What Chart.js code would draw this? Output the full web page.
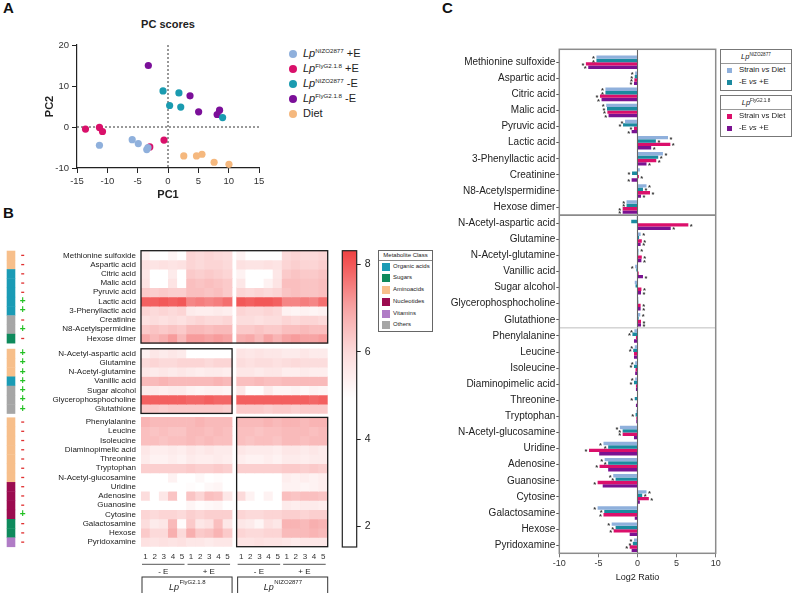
<!DOCTYPE html>
<html><head><meta charset="utf-8">
<script src="https://cdn.jsdelivr.net/npm/chart.js@4.4.1/dist/chart.umd.min.js"></script>
<style>
body{margin:0;background:#fff;width:793px;height:593px;position:relative;overflow:hidden;font-family:"Liberation Sans",Arial,sans-serif;color:#222}
.abs{position:absolute}
canvas{position:absolute}
.pl{position:absolute;font-weight:bold;font-size:15px;color:#111}
.legA{position:absolute;left:288px;top:46px;font-size:11px}
.legA .li{height:15px;line-height:15px;white-space:nowrap;position:relative;padding-left:15px}
.legA .dot{position:absolute;left:1px;top:3.5px;width:8px;height:8px;border-radius:50%}
.legA sup{font-size:0.56em}
sup{font-size:0.62em;vertical-align:0;position:relative;top:-0.6em}
.cls{position:absolute;left:378px;top:249.5px;width:53px;height:80px;border:1px solid #666;font-size:6px;background:#fff}
.cls .hd{text-align:center;height:9px;line-height:9px;border-bottom:1px solid #888}
.cls .it{height:11.8px;line-height:11.8px;position:relative;padding-left:14px}
.cls .sw{position:absolute;left:3px;top:2px;width:8px;height:8px}
.legC{position:absolute;left:720px;width:70px;border:1px solid #777;font-size:7.8px;background:#fff}
.legC .hd{text-align:center;height:13px;line-height:14px;border-bottom:1px solid #999;font-size:7.5px}
.legC .it{height:12px;line-height:12px;position:relative;padding-left:18px}
.legC .sq{position:absolute;left:6px;top:4px;width:4.5px;height:4.5px}
</style></head><body>
<div class="pl" style="left:3px;top:-1px">A</div>
<div class="pl" style="left:3px;top:204px">B</div>
<div class="pl" style="left:442px;top:-1px">C</div>
<div class="abs" style="left:118px;top:18px;width:100px;text-align:center;font-weight:bold;font-size:11px">PC scores</div>

<canvas id="cA" width="252" height="172" style="left:20px;top:36px"></canvas>
<div class="legA" id="legA"></div>

<canvas id="cH" width="340" height="348" style="left:0px;top:245px"></canvas>
<canvas id="cBar" width="60" height="310" style="left:330px;top:245px"></canvas>
<div class="cls" id="cls"><div class="hd">Metabolite Class</div></div>

<canvas id="cC" width="285" height="553" style="left:440px;top:40px"></canvas>
<div class="legC" style="top:49px;height:40px">
  <div class="hd"><i>Lp</i><sup>NIZO2877</sup></div>
  <div class="it"><span class="sq" style="background:#8fb0dc"></span>Strain <i>vs</i> Diet</div>
  <div class="it"><span class="sq" style="background:#1b8a9f"></span>-E <i>vs</i> +E</div>
</div>
<div class="legC" style="top:95px;height:40px">
  <div class="hd"><i>Lp</i><sup>FlyG2.1.8</sup></div>
  <div class="it"><span class="sq" style="background:#db0f6b"></span>Strain vs Diet</div>
  <div class="it"><span class="sq" style="background:#7a1291"></span>-E <i>vs</i> +E</div>
</div>

<script>
// ---------------- DATA ----------------
// Panel A: PC scores
const nizoPlusE_PC1 = [-11.3, -5.9, -4.9, -3.5, -3.3];
const nizoPlusE_PC2 = [-4.45, -3.1, -4.05, -5.5, -5.0];
const flyPlusE_PC1  = [-13.6, -11.3, -10.8, -3.0, -0.66];
const flyPlusE_PC2  = [-0.5, -0.1, -1.1, -4.85, -3.2];
const nizoMinusE_PC1 = [-0.82, 1.8, 0.27, 2.1, 9.0];
const nizoMinusE_PC2 = [8.8, 8.3, 5.25, 4.85, 2.3];
const flyMinusE_PC1 = [-3.24, 3.63, 5.05, 8.1, 8.5];
const flyMinusE_PC2 = [15.0, 7.6, 3.7, 3.05, 4.1];
const diet_PC1 = [2.6, 4.7, 5.6, 7.6, 10.05];
const diet_PC2 = [-7.05, -7.05, -6.65, -8.6, -9.1];

// Metabolites (rows of B, categories of C)
const metabolites = ["Methionine sulfoxide","Aspartic acid","Citric acid","Malic acid","Pyruvic acid","Lactic acid","3-Phenyllactic acid","Creatinine","N8-Acetylspermidine","Hexose dimer",
 "N-Acetyl-aspartic acid","Glutamine","N-Acetyl-glutamine","Vanillic acid","Sugar alcohol","Glycerophosphocholine","Glutathione",
 "Phenylalanine","Leucine","Isoleucine","Diaminopimelic acid","Threonine","Tryptophan","N-Acetyl-glucosamine","Uridine","Adenosine","Guanosine","Cytosine","Galactosamine","Hexose","Pyridoxamine"];
const groupSizes = [10, 7, 14];
const metaboliteClass = ["Aminoacids","Aminoacids","Organic acids","Organic acids","Organic acids","Organic acids","Organic acids","Others","Others","Sugars",
 "Aminoacids","Aminoacids","Aminoacids","Organic acids","Others","Others","Others",
 "Aminoacids","Aminoacids","Aminoacids","Aminoacids","Aminoacids","Aminoacids","Aminoacids","Nucleotides","Nucleotides","Nucleotides","Nucleotides","Sugars","Sugars","Vitamins"];
const metaboliteSign = ["-","-","-","-","-","+","+","-","+","-",
 "+","+","+","+","+","+","+",
 "-","-","-","-","-","-","-","-","-","-","+","-","-","-"];
const classNames = ["Organic acids","Sugars","Aminoacids","Nucleotides","Vitamins","Others"];

// Panel B heatmap columns: LpFlyG2.1.8 -E 1-5, +E 1-5, LpNIZO2877 -E 1-5, +E 1-5
const heatColumnLabels = ["1","2","3","4","5","1","2","3","4","5","1","2","3","4","5","1","2","3","4","5"];
const heatValues = [
 [5.4,4.6,4.6,5.2,4.6, 6.1,6.0,6.1,6.0,5.9, 5.3,4.6,4.6,4.6,4.7, 6.0,6.1,6.0,6.0,6.1],
 [5.8,5.7,5.8,5.7,5.8, 6.1,6.0,6.1,6.1,6.0, 5.8,5.7,5.7,5.8,5.7, 6.1,6.2,6.1,6.1,6.2],
 [5.6,4.5,4.5,5.5,4.6, 6.3,6.2,6.3,6.2,6.1, 5.3,4.6,4.6,4.8,5.6, 6.3,6.4,6.3,6.3,6.4],
 [5.7,4.6,4.6,5.7,4.6, 6.5,6.4,6.5,6.4,6.3, 5.6,4.7,4.6,5.3,5.7, 6.5,6.5,6.4,6.4,6.5],
 [6.3,6.2,6.3,6.2,6.2, 6.5,6.5,6.4,6.5,6.3, 6.1,6.0,6.1,6.0,6.1, 6.4,6.5,6.4,6.4,6.5],
 [7.9,7.9,8.0,7.9,8.0, 7.4,7.5,7.4,7.5,7.7, 8.0,7.9,8.0,8.0,7.9, 7.4,7.4,7.5,7.4,7.7],
 [6.1,6.0,6.1,6.0,6.1, 5.5,5.4,5.4,5.5,5.4, 6.1,6.0,6.0,6.1,6.0, 5.3,5.2,5.3,5.2,5.3],
 [5.8,5.9,5.8,5.9,5.8, 6.0,6.1,6.0,6.0,6.1, 5.9,5.9,5.8,5.9,5.9, 6.1,6.0,6.1,6.1,6.0],
 [6.3,6.4,6.3,6.4,6.3, 6.6,6.6,6.5,6.6,6.6, 6.3,6.3,6.4,6.3,6.3, 6.5,6.5,6.6,6.5,6.5],
 [6.9,6.6,6.8,7.1,6.6, 7.1,7.1,7.0,7.1,7.0, 6.8,6.9,6.6,7.0,6.7, 7.0,7.1,7.0,7.0,7.1],
 [5.3,5.6,5.5,5.6,5.5, 4.7,4.6,4.7,4.6,4.7, 5.7,5.6,5.7,5.6,5.6, 5.5,5.5,5.6,5.5,5.5],
 [6.0,6.1,6.0,6.0,6.1, 6.1,6.1,6.0,6.1,6.1, 5.9,5.8,5.9,5.9,5.8, 5.9,6.0,5.9,5.9,5.9],
 [5.6,5.5,5.6,5.5,5.6, 5.5,5.4,5.5,5.5,5.4, 5.6,5.6,5.5,5.6,5.6, 5.4,5.4,5.5,5.4,5.4],
 [6.6,6.6,6.7,6.6,6.6, 6.6,6.6,6.6,6.7,6.6, 6.5,6.5,6.6,6.5,6.5, 6.6,6.6,6.6,6.6,6.6],
 [5.5,5.5,5.4,5.5,5.5, 5.3,5.2,5.3,5.3,5.2, 5.6,5.0,5.0,5.5,5.2, 5.2,5.3,5.1,5.3,5.2],
 [7.9,7.9,7.9,7.9,7.9, 7.8,7.8,7.9,7.8,7.8, 7.9,7.9,7.9,7.9,7.9, 7.9,7.9,7.9,7.8,7.9],
 [6.3,6.3,6.2,6.3,6.3, 6.3,6.3,6.3,6.3,6.2, 6.3,6.3,6.3,6.2,6.3, 6.3,6.2,6.3,6.3,6.3],
 [6.7,6.6,6.6,6.6,6.6, 6.6,6.7,6.6,6.6,6.6, 6.6,6.6,6.6,6.7,6.6, 6.7,6.7,6.6,6.7,6.7],
 [6.5,6.4,6.5,6.4,6.4, 6.6,6.6,6.5,6.6,6.5, 6.5,6.5,6.4,6.5,6.5, 6.6,6.6,6.6,6.5,6.6],
 [6.5,6.5,6.4,6.5,6.5, 6.6,6.5,6.6,6.5,6.5, 6.5,6.4,6.5,6.5,6.4, 6.6,6.6,6.5,6.6,6.6],
 [5.6,5.4,5.4,5.5,5.4, 5.6,5.5,5.6,5.5,5.5, 5.6,5.5,5.5,5.5,5.4, 5.6,5.6,5.5,5.6,5.5],
 [5.5,5.3,5.3,5.4,5.3, 5.5,5.4,5.4,5.5,5.4, 5.4,5.3,5.3,5.4,5.3, 5.5,5.5,5.4,5.5,5.5],
 [6.2,6.2,6.2,6.2,6.2, 6.3,6.2,6.2,6.3,6.2, 6.2,6.2,6.2,6.2,6.2, 6.3,6.3,6.2,6.3,6.2],
 [4.9,4.6,4.6,5.3,4.6, 4.9,5.1,4.8,5.0,4.9, 4.5,4.5,4.5,4.5,4.5, 5.4,5.3,5.4,5.3,5.4],
 [4.6,4.5,4.5,4.6,4.5, 5.0,4.8,5.1,5.2,4.8, 4.5,4.5,4.5,4.5,4.5, 5.3,5.3,5.2,5.3,5.4],
 [5.9,4.6,5.6,6.4,4.6, 6.4,6.1,6.5,6.4,5.6, 6.0,5.3,4.6,5.3,4.6, 6.5,6.4,6.5,6.5,6.4],
 [4.6,4.5,4.5,4.6,4.5, 5.2,5.0,5.1,5.2,4.9, 4.5,4.6,4.5,4.5,4.5, 5.5,5.4,5.5,5.5,5.4],
 [6.1,6.0,6.1,6.1,6.0, 6.2,6.1,6.2,6.2,6.2, 6.1,6.0,6.0,6.1,6.1, 6.2,6.2,6.1,6.2,6.2],
 [5.9,5.5,5.6,6.6,5.0, 6.3,5.6,5.8,6.5,5.6, 5.6,5.5,5.2,5.8,5.6, 6.7,6.7,6.6,6.8,6.7],
 [6.3,6.0,6.0,6.8,6.0, 6.8,6.3,6.4,6.7,6.3, 6.1,6.0,6.0,6.1,6.1, 6.6,6.6,6.6,6.7,6.6],
 [5.8,5.7,5.8,5.7,5.8, 5.6,5.6,5.5,5.6,5.6, 5.7,5.7,5.8,5.7,5.7, 5.6,5.5,5.6,5.6,5.6]
];
const colorMin = 1.53, colorMax = 8.31;
const colorTicks = [2, 4, 6, 8];

// Panel C: Log2 ratios
const nizoStrainDiet = [-5.25,-0.3,-4.1,-4.0,-1.6,3.9,3.25,0.3,1.15,-1.4, -0.1,0.4,0.15,-0.3,-0.35,0.1,0.35, -0.4,-0.35,-0.3,-0.3,0,-0.15,-2.25,-4.35,-4.2,-3.1,1.15,-5.1,-3.3,-0.45];
const nizoEffect     = [-5.25,-0.35,-4.1,-3.9,-1.85,2.35,2.65,-0.7,0.7,-1.4, -0.8,0.2,0.1,-0.15,-0.25,0.1,0.15, -0.65,-0.55,-0.45,-0.45,-0.35,-0.25,-1.9,-3.75,-3.75,-2.8,0.6,-4.25,-2.8,-0.6];
const flyStrainDiet  = [-6.6,-0.4,-4.8,-3.85,-0.45,4.2,2.4,0.17,1.6,-1.9, 6.5,0.55,0.55,0.15,0.5,0.4,0.45, -0.2,-0.45,-0.25,-0.2,-0.05,-0.15,-1.9,-6.2,-4.85,-5.1,1.45,-4.35,-3.05,-1.0];
const flyEffect      = [-6.3,-0.45,-4.6,-3.7,-0.75,1.75,1.15,-0.75,0.45,-1.9, 4.25,0.4,0.5,0.7,0.45,0.4,0.45, -0.45,-0.45,-0.3,-0.2,-0.2,-0.15,-0.45,-4.9,-3.75,-4.45,0.3,-0.35,-1.0,-0.75];
const nizoStrainDietSig = [1,1,1,1,1,1,1,0,1,1, 0,1,1,1,0,0,1, 1,1,1,1,0,0,1,1,1,1,1,1,1,1];
const nizoEffectSig     = [1,1,1,1,1,1,1,1,1,1, 0,0,0,0,0,0,0, 1,1,1,1,1,1,1,1,1,1,1,1,1,1];
const flyStrainDietSig  = [1,1,1,1,1,1,1,1,1,1, 1,1,1,0,1,1,1, 0,0,0,0,0,0,1,1,1,1,1,1,1,1];
const flyEffectSig      = [1,1,1,1,1,1,1,1,1,1, 1,1,1,1,1,1,1, 0,0,0,0,0,0,0,0,0,0,0,0,0,0];
const log2Ticks = [-10, -5, 0, 5, 10];

// ---------------- STYLE ----------------
const FONT = '"Liberation Sans", Arial, sans-serif';
Chart.defaults.font.family = FONT;
Chart.defaults.color = '#222';
Chart.defaults.animation = false;
Chart.defaults.events = [];
Chart.defaults.plugins.legend.display = false;
Chart.defaults.plugins.tooltip.enabled = false;

const classColors = {"Organic acids":"#1a9bb5","Sugars":"#0e8a5c","Aminoacids":"#f7bf8b","Nucleotides":"#9b0b4f","Vitamins":"#b07cc6","Others":"#a6a6a6"};

// Legends (HTML)
const groupsA = [
 {name:'NIZO2877', cond:'+E', color:'#8fb0dc', pc1:nizoPlusE_PC1, pc2:nizoPlusE_PC2},
 {name:'FlyG2.1.8', cond:'+E', color:'#d9106a', pc1:flyPlusE_PC1, pc2:flyPlusE_PC2},
 {name:'NIZO2877', cond:'-E', color:'#1a9bb0', pc1:nizoMinusE_PC1, pc2:nizoMinusE_PC2},
 {name:'FlyG2.1.8', cond:'-E', color:'#7b0f99', pc1:flyMinusE_PC1, pc2:flyMinusE_PC2},
 {name:null, cond:'Diet', color:'#f5b87e', pc1:diet_PC1, pc2:diet_PC2}
];
document.getElementById('legA').innerHTML = groupsA.map(g =>
 `<div class="li"><span class="dot" style="background:${g.color}"></span>${g.name?`<i>Lp</i><sup>${g.name}</sup> ${g.cond}`:g.cond}</div>`).join('');
document.getElementById('cls').innerHTML += classNames.map(c =>
 `<div class="it"><span class="sw" style="background:${classColors[c]}"></span>${c}</div>`).join('');

// ---------------- PANEL A ----------------
const zeroLines = {
 id:'zeroLines',
 beforeDatasetsDraw(chart){
  const {ctx, chartArea:a, scales:{x,y}} = chart;
  ctx.save(); ctx.strokeStyle='#333'; ctx.lineWidth=1; ctx.setLineDash([2,2]);
  const px = x.getPixelForValue(0), py = y.getPixelForValue(0);
  ctx.beginPath(); ctx.moveTo(px,a.top); ctx.lineTo(px,a.bottom); ctx.moveTo(a.left,py); ctx.lineTo(a.right,py); ctx.stroke();
  ctx.restore();
 }
};
new Chart(document.getElementById('cA'), {
 type:'scatter',
 data:{datasets: groupsA.map(g => ({data: g.pc1.map((v,i)=>({x:v, y:g.pc2[i]})), backgroundColor:g.color, borderWidth:0, pointRadius:3.6}))},
 options:{responsive:false, clip:false,
  layout:{padding:{top:9,right:13,left:0,bottom:0}},
  scales:{
   x:{type:'linear', min:-15, max:15, ticks:{stepSize:5, font:{size:9.5}, color:'#333', padding:3},
      grid:{drawOnChartArea:false, tickLength:5, color:'#222'}, border:{color:'#222', width:1.2},
      title:{display:true, text:'PC1', font:{size:11, weight:'bold'}, color:'#222', padding:{top:0,bottom:6}},
      afterFit(s){ s.height=40; s.paddingLeft=0; s.paddingRight=0; }},
   y:{type:'linear', min:-10, max:20, ticks:{stepSize:10, font:{size:9.5}, color:'#333', padding:3},
      grid:{drawOnChartArea:false, tickLength:5, color:'#222'}, border:{color:'#222', width:1.2},
      title:{display:true, text:'PC2', font:{size:11, weight:'bold'}, color:'#222', padding:{top:23.5,bottom:0}},
      afterFit(s){ s.width=57; s.paddingTop=0; s.paddingBottom=0; }}
  }},
 plugins:[zeroLines]
});

// ---------------- PANEL B ----------------
const colorStops = [[1.5,[255,255,255]],[4.9,[255,255,255]],[6.0,[252,218,218]],[7.0,[247,164,164]],[8.0,[242,88,88]],[8.4,[238,60,60]]];
function colorFor(v){
 if (v <= colorStops[0][0]) return 'rgb(255,255,255)';
 for (let k=1;k<colorStops.length;k++){
  const [v1,c1] = colorStops[k], [v0,c0] = colorStops[k-1];
  if (v <= v1){ const t=(v-v0)/(v1-v0); return `rgb(${c0.map((c,j)=>Math.round(c+(c1[j]-c)*t)).join(',')})`; }
 }
 const c = colorStops[colorStops.length-1][1]; return `rgb(${c.join(',')})`;
}
// row layout (in row units) with small gaps between groups
const groupGaps = [0, 0.62, 0.43];
const rowTop = []; const groupTop = []; const groupBottom = [];
{ let pos = 0, r = 0;
  groupSizes.forEach((n,g) => { pos += groupGaps[g]; groupTop.push(pos); for(let k=0;k<n;k++){ rowTop[r++] = pos; pos += 1; } groupBottom.push(pos); });
}
const rowsTotal = groupBottom[groupBottom.length-1];
const colCenter = heatColumnLabels.map((_,i) => i + 0.5 + (i >= 10 ? 0.5 : 0));
const colsTotal = 20.5;
const condGroups = [{t:'- E', c0:0, c1:5},{t:'+ E', c0:5, c1:10},{t:'- E', c0:10.5, c1:15.5},{t:'+ E', c0:15.5, c1:20.5}];
const strainGroups = [{t:'FlyG2.1.8', c0:0, c1:10},{t:'NIZO2877', c0:10.5, c1:20.5}];
const heatBoxes = [{g:0, c0:0, c1:20.5},{g:1, c0:0, c1:10},{g:2, c0:10.5, c1:20.5}];

const heatDecor = {
 id:'heatDecor',
 afterDraw(chart){
  const {ctx, scales:{x,y}} = chart;
  ctx.save();
  ctx.strokeStyle='#1a1a1a'; ctx.lineWidth=1.3;
  heatBoxes.forEach(b => {
   const x0=x.getPixelForValue(b.c0), x1=x.getPixelForValue(b.c1);
   const y0=y.getPixelForValue(groupTop[b.g]), y1=y.getPixelForValue(groupBottom[b.g]);
   ctx.strokeRect(x0, y0, x1-x0, y1-y0);
  });
  metaboliteClass.forEach((c,i) => {
   const t=y.getPixelForValue(rowTop[i]), b=y.getPixelForValue(rowTop[i]+1);
   ctx.fillStyle = classColors[c]; ctx.fillRect(6.7, t, 8.6, b-t+0.4);
  });
  ctx.textAlign='center'; ctx.textBaseline='middle';
  metaboliteSign.forEach((s,i) => {
   const cy = y.getPixelForValue(rowTop[i]+0.5);
   if (s === '+'){ ctx.fillStyle='#22c022'; ctx.font='bold 10px '+FONT; ctx.fillText('+', 22.7, cy); }
   else { ctx.fillStyle='#e03030'; ctx.fillRect(21.2, cy-0.6, 3, 1.3); }
  });
  ctx.strokeStyle='#444'; ctx.lineWidth=0.9; ctx.fillStyle='#222'; ctx.font='8px '+FONT;
  condGroups.forEach(g => {
   const x0=x.getPixelForValue(g.c0)+1, x1=x.getPixelForValue(g.c1)-2;
   ctx.beginPath(); ctx.moveTo(x0, 564.3-245); ctx.lineTo(x1, 564.3-245); ctx.stroke();
   ctx.fillText(g.t, (x0+x1)/2, 571.8-245);
  });
  ctx.strokeStyle='#333'; ctx.lineWidth=1;
  strainGroups.forEach(g => {
   const x0=x.getPixelForValue(g.c0)+1, x1=x.getPixelForValue(g.c1);
   ctx.strokeRect(x0, 577-245, x1-x0, 30);
   ctx.font='italic 9px '+FONT; const w1=ctx.measureText('Lp').width;
   ctx.font='6px '+FONT; const w2=ctx.measureText(g.t).width;
   const sx=(x0+x1)/2-(w1+w2)/2;
   ctx.textAlign='left';
   ctx.font='italic 9px '+FONT; ctx.fillText('Lp', sx, 587.5-245);
   ctx.font='6px '+FONT; ctx.fillText(g.t, sx+w1+0.5, 582.5-245);
   ctx.textAlign='center';
  });
  ctx.restore();
 }
};
new Chart(document.getElementById('cH'), {
 type:'bar',
 data:{datasets: heatValues.map((row,r) => ({
   data: row.map((v,c) => ({x: colCenter[c], y: [rowTop[r], rowTop[r]+1]})),
   backgroundColor: row.map(colorFor), borderWidth:0, grouped:false, barPercentage:1, categoryPercentage:1
 }))},
 options:{responsive:false,
  layout:{padding:{top:5.7,right:12.3,left:0,bottom:0}},
  scales:{
   x:{type:'linear', offset:false, min:0, max:colsTotal,
      afterBuildTicks(ax){ ax.ticks = colCenter.map(v=>({value:v})); },
      ticks:{autoSkip:false, maxRotation:0, callback:(v,i)=>heatColumnLabels[i], font:{size:8}, color:'#333', padding:5},
      grid:{display:false, drawTicks:false, offset:false}, border:{display:false},
      afterFit(s){ s.height=46.3; s.paddingLeft=0; s.paddingRight=0; }},
   y:{type:'linear', reverse:true, min:0, max:rowsTotal,
      afterBuildTicks(ax){ ax.ticks = rowTop.map(v=>({value:v+0.5})); },
      ticks:{autoSkip:false, callback:(v,i)=>metabolites[i], font:{size:8}, color:'#222', padding:5},
      grid:{display:false, drawTicks:false}, border:{display:false},
      afterFit(s){ s.width=141; s.paddingTop=0; s.paddingBottom=0; }}
  }},
 plugins:[heatDecor]
});

const frame = {
 id:'frame',
 afterDatasetsDraw(chart, args, opts){
  const {ctx, chartArea:a} = chart;
  ctx.save(); ctx.strokeStyle=opts.color||'#222'; ctx.lineWidth=opts.width||1.2;
  ctx.strokeRect(a.left, a.top, a.right-a.left, a.bottom-a.top); ctx.restore();
 }
};
new Chart(document.getElementById('cBar'), {
 type:'bar',
 data:{labels:['scale'], datasets:[{data:[[colorMin, colorMax]], borderWidth:0, barPercentage:1, categoryPercentage:1,
   backgroundColor(ctx){
    const ch = ctx.chart, ys = ch.scales.y; if (!ys || !ch.chartArea) return '#fff';
    const g = ch.ctx.createLinearGradient(0, ys.getPixelForValue(colorMin), 0, ys.getPixelForValue(colorMax));
    for (let k=0;k<=40;k++){ g.addColorStop(k/40, colorFor(colorMin+(colorMax-colorMin)*k/40)); }
    return g;
   }}]},
 options:{responsive:false,
  layout:{padding:{top:5.7,left:12.3,right:0,bottom:8}},
  plugins:{frame:{color:'#222', width:1.2}},
  scales:{
   x:{display:false},
   y:{position:'right', min:colorMin, max:colorMax,
      afterBuildTicks(ax){ ax.ticks = colorTicks.map(v=>({value:v})); },
      ticks:{font:{size:10.5}, color:'#222', padding:4},
      grid:{drawOnChartArea:false, tickLength:4, color:'#222'}, border:{display:false},
      afterFit(s){ s.width=33.3; s.paddingTop=0; s.paddingBottom=0; }}
  }},
 plugins:[frame]
});

// ---------------- PANEL C ----------------
const cDecor = {
 id:'cDecor',
 beforeDatasetsDraw(chart){
  const {ctx, chartArea:a, scales:{x,y}} = chart;
  ctx.save();
  const px = x.getPixelForValue(0);
  ctx.strokeStyle='#666'; ctx.lineWidth=1.1;
  ctx.beginPath(); ctx.moveTo(px,a.top); ctx.lineTo(px,a.bottom); ctx.stroke();
  let acc = 0; const seps = [];
  groupSizes.slice(0,-1).forEach(n => { acc += n; seps.push(acc - 0.5); });
  seps.forEach((s,k) => {
   ctx.strokeStyle = k===0 ? '#8a8a8a' : '#bdbdbd'; ctx.lineWidth = k===0 ? 1.6 : 1;
   const py = y.getPixelForValue(s);
   ctx.beginPath(); ctx.moveTo(a.left,py); ctx.lineTo(a.right,py); ctx.stroke();
  });
  ctx.restore();
 },
 afterDatasetsDraw(chart){
  const {ctx, chartArea:a} = chart;
  ctx.save();
  ctx.strokeStyle='#8c8c8c'; ctx.lineWidth=1.5;
  ctx.strokeRect(a.left, a.top, a.right-a.left, a.bottom-a.top);
  ctx.fillStyle='#333'; ctx.font='bold 7.5px '+FONT; ctx.textBaseline='middle';
  chart.data.datasets.forEach((ds,di) => {
   const meta = chart.getDatasetMeta(di);
   meta.data.forEach((bar,i) => {
    if (!ds.stars[i]) return;
    const v = ds.data[i].x;
    if (v < 0){ ctx.textAlign='right'; ctx.fillText('*', bar.x-1.5, bar.y+2); }
    else { ctx.textAlign='left'; ctx.fillText('*', bar.x+1.5, bar.y+2); }
   });
  });
  ctx.restore();
 }
};
const seriesC = [
 {vals:nizoStrainDiet, sig:nizoStrainDietSig, color:'#8fb0dc'},
 {vals:nizoEffect, sig:nizoEffectSig, color:'#1b8a9f'},
 {vals:flyStrainDiet, sig:flyStrainDietSig, color:'#db0f6b'},
 {vals:flyEffect, sig:flyEffectSig, color:'#7a1291'}
];
new Chart(document.getElementById('cC'), {
 type:'bar',
 data:{datasets: seriesC.map(s => ({data: s.vals.map((v,i)=>({x:v, y:i})), stars:s.sig, backgroundColor:s.color, borderWidth:0, categoryPercentage:0.84, barPercentage:1}))},
 options:{indexAxis:'y', responsive:false,
  layout:{padding:{top:9.3,right:9.3,left:0,bottom:0}},
  scales:{
   x:{type:'linear', min:-10, max:10,
      afterBuildTicks(ax){ ax.ticks = log2Ticks.map(v=>({value:v})); },
      ticks:{font:{size:9}, color:'#333', padding:1},
      grid:{drawOnChartArea:false, tickLength:4, color:'#777'}, border:{display:false},
      title:{display:true, text:'Log2 Ratio', font:{size:9}, color:'#222', padding:{top:0,bottom:10.3}},
      afterFit(s){ s.height=39.7; s.paddingLeft=0; s.paddingRight=0; }},
   y:{type:'linear', reverse:true, offset:false, min:-0.8, max:30.5,
      afterBuildTicks(ax){ ax.ticks = metabolites.map((_,i)=>({value:i})); },
      ticks:{autoSkip:false, callback:(v,i)=>metabolites[i], font:{size:10}, color:'#222', padding:1},
      grid:{drawOnChartArea:false, tickLength:3, color:'#555', offset:false}, border:{display:false},
      afterFit(s){ s.width=119.3; s.paddingTop=0; s.paddingBottom=0; }}
  }},
 plugins:[cDecor]
});
</script>
</body></html>
